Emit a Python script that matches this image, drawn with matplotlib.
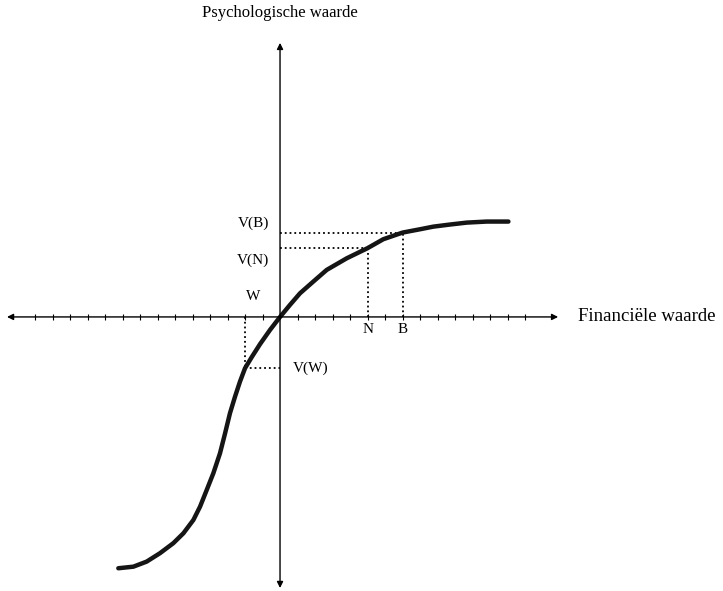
import matplotlib
matplotlib.use('Agg')
import matplotlib.pyplot as plt

plt.rcParams['font.family'] = ['Liberation Serif', 'DejaVu Serif']

# value curve (x in tick units, y on the same scale)
curve_x = [-9.24, -8.38, -7.62, -6.86, -6.10, -5.52, -4.95, -4.57, -4.19, -3.81,
           -3.43, -3.14, -2.86, -2.57, -2.29, -2.0, -1.62, -1.14, -0.57, 0.0,
           0.57, 1.14, 1.90, 2.67, 3.81, 5.0, 5.90, 7.0, 8.0, 8.76,
           9.71, 10.67, 11.81, 13.05]
curve_y = [-14.36, -14.27, -13.98, -13.50, -12.93, -12.36, -11.6, -10.84, -9.89, -8.93,
           -7.79, -6.65, -5.50, -4.55, -3.70, -2.93, -2.30, -1.55, -0.74, 0.0,
           0.69, 1.35, 2.02, 2.69, 3.35, 3.93, 4.44, 4.82, 5.01, 5.16,
           5.28, 5.39, 5.45, 5.45]

# marked gains on the x-axis and their values
point_names = ['N', 'B']
point_x = [5.0, 7.0]
point_v = [3.93, 4.82]
# marked loss
loss_x = -2.0
loss_v = -2.93

tick_pos = [t for t in range(-14, 15) if t != 0]

fig = plt.figure(figsize=(7.23, 5.91), dpi=100)
ax = fig.add_axes([0, 0, 1, 1])
ax.set_xlim(-16, 25.31)
ax.set_ylim(-15.66, 18.11)
ax.axis('off')

# axes with arrow heads
arr = dict(arrowstyle='<|-|>', color='black', lw=1.0, mutation_scale=9, shrinkA=0, shrinkB=0)
ax.annotate('', xy=(15.89, 0), xytext=(-15.6, 0), arrowprops=arr)
ax.annotate('', xy=(0, 15.66), xytext=(0, -15.49), arrowprops=arr)
ax.plot(tick_pos, [0] * len(tick_pos), ls='none', marker='|', ms=4, mew=0.8, color='black')

# dotted guides
for x, v in zip(point_x, point_v):
    ax.plot([0, x], [v, v], ls=':', lw=1.3, color='black')
    ax.plot([x, x], [0, v], ls=':', lw=1.3, color='black')
ax.plot([loss_x, 0], [loss_v, loss_v], ls=':', lw=1.3, color='black')
ax.plot([loss_x, loss_x], [0, loss_v], ls=':', lw=1.3, color='black')

ax.plot(curve_x, curve_y, color='#151515', lw=3.2, solid_capstyle='round', solid_joinstyle='round')

# labels
fs = 11
ax.text(0, 17.37, 'Psychologische waarde', ha='center', va='center', fontsize=12)
ax.text(17.03, 0, 'Financiële waarde', ha='left', va='center', fontsize=13.5)
ax.text(-1.54, 5.37, 'V(B)', ha='center', va='center', fontsize=fs)
ax.text(-1.54, 3.26, 'V(N)', ha='center', va='center', fontsize=fs)
ax.text(-1.54, 1.14, 'W', ha='center', va='center', fontsize=fs)
for name, x in zip(point_names, point_x):
    ax.text(x, -0.74, name, ha='center', va='center', fontsize=fs)
ax.text(1.77, -2.91, 'V(W)', ha='center', va='center', fontsize=fs)

plt.savefig('out.png', dpi=100)
